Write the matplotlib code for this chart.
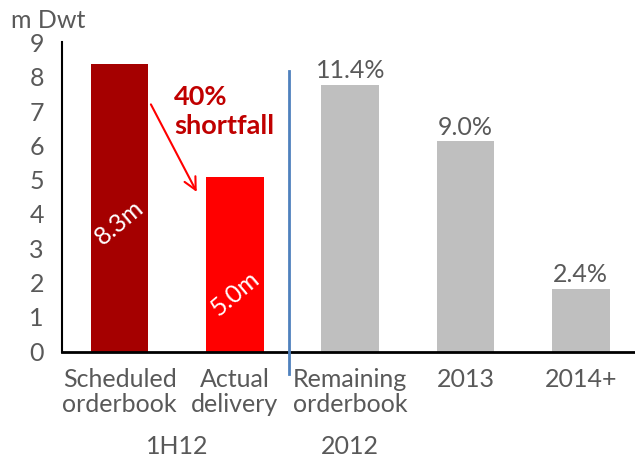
import matplotlib.pyplot as plt
import numpy as np

plt.rcParams['font.family'] = ['Lato', 'DejaVu Sans']

# data
categories = ['Scheduled\norderbook', 'Actual\ndelivery', 'Remaining\norderbook', '2013', '2014+']
values = [8.4, 5.1, 7.8, 6.15, 1.85]
bar_colors = ['#A50000', '#FF0000', '#BFBFBF', '#BFBFBF', '#BFBFBF']
inside_labels = ['8.3m', '5.0m']
pct_labels = ['11.4%', '9.0%', '2.4%']
group_labels = ['1H12', '2012']

grey = '#595959'
fs = 18
x = np.arange(len(categories))

fig = plt.figure(figsize=(6.35, 4.6), dpi=100)
ax = fig.add_axes([0.0976, 0.2326, 0.9024, 0.674])

ax.bar(x, values, width=0.5, color=bar_colors, zorder=2)
ax.set_xlim(-0.5, 4.47)
ax.set_ylim(0, 9.05)
ax.set_yticks(range(10))
ax.set_xticks(x)
ax.set_xticklabels(categories, fontsize=fs, color=grey, linespacing=1.08)
ax.tick_params(axis='both', length=0, labelsize=fs, labelcolor=grey)
ax.tick_params(axis='x', pad=11)
ax.tick_params(axis='y', pad=13)
for lab in ax.get_yticklabels():
    lab.set_verticalalignment('center')

for side in ['top', 'right']:
    ax.spines[side].set_visible(False)
ax.spines['left'].set_linewidth(1.5)
ax.spines['bottom'].set_linewidth(2)

# rotated value labels inside the red bars
ax.text(0, 3.8, inside_labels[0], rotation=40, color='white', fontsize=fs,
        ha='center', va='center')
ax.text(1, 1.75, inside_labels[1], rotation=40, color='white', fontsize=fs,
        ha='center', va='center')

# percentage labels above the grey bars
for i, lab in enumerate(pct_labels):
    ax.text(x[i + 2], values[i + 2] + 0.1, lab, color=grey, fontsize=fs,
            ha='center', va='bottom')

# shortfall arrow and note
ax.annotate('', xy=(0.68, 4.6), xytext=(0.26, 7.3),
            arrowprops=dict(arrowstyle='->', color='#FF0000', lw=1.5,
                            mutation_scale=22))
ax.text(0.47, 7.05, '40%\nshortfall', color='#C00000', fontsize=19.5,
        fontweight='bold', ha='left', va='center', linespacing=1.25)

# separator between 1H12 and 2012
ax.plot([1.47, 1.47], [8.2, -0.65], color='#4F81BD', lw=2, clip_on=False, zorder=3)

# group labels
ax.text(0.5, -2.74, group_labels[0], color=grey, fontsize=fs, ha='center', va='center')
ax.text(2.0, -2.74, group_labels[1], color=grey, fontsize=fs, ha='center', va='center')

fig.text(0.018, 0.955, 'm Dwt', color=grey, fontsize=fs, ha='left', va='center')

fig.savefig('out.png', dpi=100)
